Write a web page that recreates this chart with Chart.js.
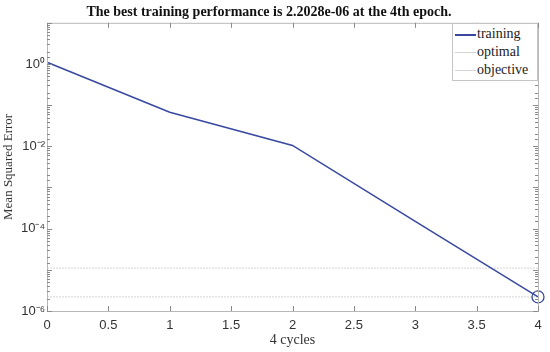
<!DOCTYPE html>
<html>
<head>
<meta charset="utf-8">
<script src="https://cdn.jsdelivr.net/npm/chart.js@4"></script>
<style>
  html, body { margin: 0; padding: 0; background: #fff; }
  #wrap { position: relative; width: 550px; height: 352px; }
  #legend {
    position: absolute; left: 452px; top: 23px; width: 84px;
    border: 1px solid #c4c4c4; background: #fff;
    font-family: "Liberation Serif", serif; font-size: 14px; color: #222;
    padding: 1px 0;
  }
  #legend div { height: 18px; line-height: 18px; white-space: nowrap; }
  #legend span { display: inline-block; width: 21px; height: 0; vertical-align: middle; margin: 0 1px 0 2px; }
</style>
</head>
<body>
<div id="wrap">
  <canvas id="chart" width="550" height="352"></canvas>
  <div id="legend"></div>
</div>
<script>
const epochs = [0, 1, 2, 3, 4];
const trainingMse = [1.1, 0.067, 0.0105, 1.5e-4, 2.2028e-6];
const optimalMse = 2.2028e-6;
const objectiveMse = 1.1e-5;
const xTicks = [0, 0.5, 1, 1.5, 2, 2.5, 3, 3.5, 4];
const yLabelPowers = [0, -2, -4, -6];

const seriesNames = ['training', 'optimal', 'objective'];
const lineBlue = '#3848a0';
const refGrey = '#d4d4d4';
const axisGrey = '#b8b8b8';

const sup = { '-': '⁻', '0': '⁰', '1': '¹', '2': '²', '3': '³', '4': '⁴', '5': '⁵', '6': '⁶', '7': '⁷', '8': '⁸', '9': '⁹' };
const pow10 = p => '10' + String(p).split('').map(c => sup[c]).join('');

const lastIdx = trainingMse.length - 1;

// frame + inward tick marks, like matlab's box
const boxPlugin = {
  id: 'box',
  afterDatasetsDraw(chart) {
    const { ctx, chartArea: a, scales } = chart;
    ctx.save();
    ctx.strokeStyle = axisGrey;
    ctx.lineWidth = 1;
    ctx.strokeRect(a.left + 0.5, a.top + 0.5, a.right - a.left, a.bottom - a.top);
    ctx.strokeStyle = '#8a8a8a';
    ctx.beginPath();
    scales.x.ticks.forEach(t => {
      const px = Math.round(scales.x.getPixelForValue(t.value)) + 0.5;
      ctx.moveTo(px, a.bottom); ctx.lineTo(px, a.bottom - 5);
      ctx.moveTo(px, a.top); ctx.lineTo(px, a.top + 5);
    });
    scales.y.ticks.forEach(t => {
      const py = Math.round(scales.y.getPixelForValue(t.value)) + 0.5;
      const major = Math.abs(Math.log10(t.value) - Math.round(Math.log10(t.value))) < 1e-6;
      const len = major ? 5 : 3;
      ctx.moveTo(a.left, py); ctx.lineTo(a.left + len, py);
      ctx.moveTo(a.right, py); ctx.lineTo(a.right - len, py);
    });
    ctx.stroke();
    ctx.restore();
  }
};

new Chart(document.getElementById('chart'), {
  type: 'line',
  data: {
    datasets: [
      {
        label: seriesNames[0],
        data: epochs.map((e, i) => ({ x: e, y: trainingMse[i] })),
        borderColor: lineBlue,
        borderWidth: 1.5,
        pointRadius: c => c.dataIndex === lastIdx ? 6 : 0,
        pointBorderColor: lineBlue,
        pointBackgroundColor: 'rgba(0,0,0,0)',
        pointBorderWidth: 1.3,
        tension: 0,
        clip: false
      },
      {
        label: seriesNames[1],
        data: [{ x: epochs[0], y: optimalMse }, { x: epochs[lastIdx], y: optimalMse }],
        borderColor: refGrey,
        borderWidth: 1,
        borderDash: [2, 1],
        pointRadius: 0
      },
      {
        label: seriesNames[2],
        data: [{ x: epochs[0], y: objectiveMse }, { x: epochs[lastIdx], y: objectiveMse }],
        borderColor: refGrey,
        borderWidth: 1,
        borderDash: [2, 1],
        pointRadius: 0
      }
    ]
  },
  options: {
    responsive: false,
    animation: false,
    layout: { padding: { left: 0, right: 12, top: 0, bottom: 0 } },
    plugins: {
      legend: { display: false },
      tooltip: { enabled: false },
      title: {
        display: true,
        text: 'The best training performance is 2.2028e-06 at the 4th epoch.',
        font: { family: 'Liberation Serif', size: 14, weight: 'bold' },
        color: '#111',
        padding: { top: 4, bottom: 2 }
      }
    },
    scales: {
      x: {
        type: 'linear',
        min: 0,
        max: 4,
        afterBuildTicks: s => { s.ticks = xTicks.map(v => ({ value: v })); },
        afterFit: s => { s.height = 41; },
        ticks: {
          font: { family: 'Liberation Sans', size: 13 },
          color: '#333',
          padding: 7,
          callback: v => String(v)
        },
        grid: { display: false, drawTicks: false },
        border: { display: false },
        title: {
          display: true,
          text: '4 cycles',
          font: { family: 'Liberation Serif', size: 14 },
          color: '#333',
          padding: { top: 0, bottom: 3 }
        }
      },
      y: {
        type: 'logarithmic',
        min: 1e-6,
        max: 10,
        afterFit: s => { s.width = 47; },
        ticks: {
          autoSkip: false,
          font: { family: 'Liberation Sans', size: 13 },
          color: '#333',
          padding: 2,
          callback: v => {
            const p = Math.log10(v);
            const r = Math.round(p);
            if (Math.abs(p - r) > 1e-6) return '';
            return yLabelPowers.includes(r) ? pow10(r) : '';
          }
        },
        grid: { display: false, drawTicks: false },
        border: { display: false },
        title: {
          display: true,
          text: 'Mean Squared Error',
          font: { family: 'Liberation Serif', size: 13 },
          color: '#333',
          padding: { top: 1, bottom: 0 }
        }
      }
    }
  },
  plugins: [boxPlugin]
});

// legend box inside the axes, top right
const legendEl = document.getElementById('legend');
const legendColors = [lineBlue, refGrey, refGrey];
legendEl.innerHTML = seriesNames.map((n, i) =>
  `<div><span style="border-top:${i === 0 ? 2 : 1}px solid ${legendColors[i]}"></span>${n}</div>`
).join('');
</script>
</body>
</html>
